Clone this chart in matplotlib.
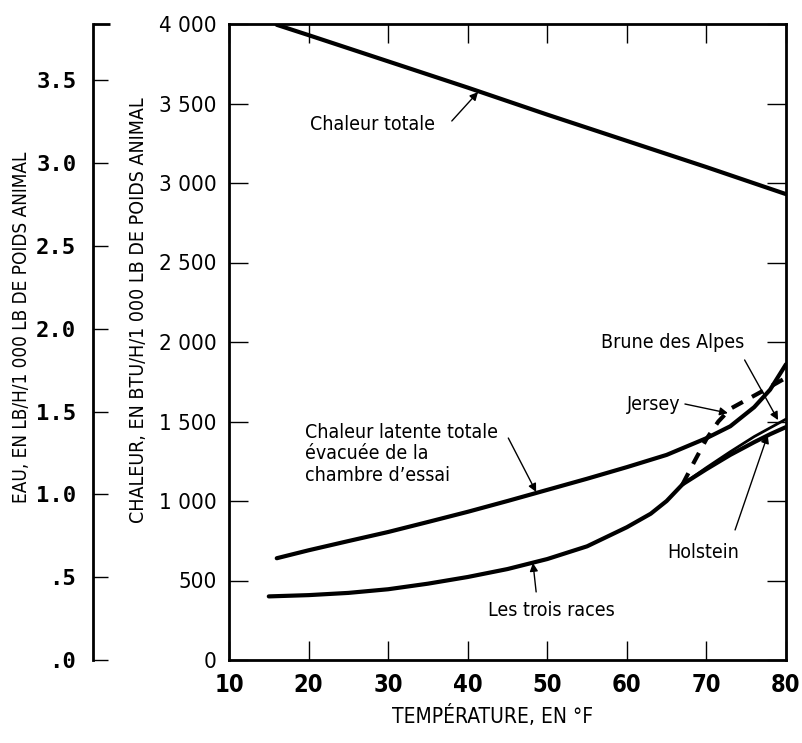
import matplotlib
matplotlib.use("Agg")
import matplotlib.pyplot as plt
from matplotlib.ticker import FixedLocator, FuncFormatter

# ===== DATA =====

TOTAL_TEMP = [16, 20, 30, 40, 50, 60, 70, 80]
TOTAL_HEAT = [3995, 3930, 3765, 3600, 3430, 3265, 3100, 2930]

LATENT_TEMP = [16, 20, 25, 30, 35, 40, 45, 50, 55, 60, 65, 70, 73, 76, 78, 80]
LATENT_HEAT = [640, 690, 748, 805, 868, 932, 1000, 1070, 1140, 1213, 1290, 1395, 1470, 1590, 1700, 1860]

BREEDS_TEMP = [15, 20, 25, 30, 35, 40, 45, 50, 55, 60, 63, 65, 67]
BREEDS_HEAT = [400, 408, 422, 445, 480, 522, 572, 635, 715, 835, 920, 1000, 1105]

JERSEY_TEMP = [67, 68.5, 70, 71.5, 73, 75, 77, 80]
JERSEY_HEAT = [1105, 1250, 1390, 1500, 1580, 1635, 1690, 1775]

HOLSTEIN_TEMP = [67, 70, 73, 76, 78, 80]
HOLSTEIN_HEAT = [1105, 1200, 1290, 1370, 1420, 1465]

BRUNE_TEMP = [67, 70, 73, 76, 78, 80]
BRUNE_HEAT = [1105, 1210, 1310, 1405, 1460, 1515]

X_TICKS = [10, 20, 30, 40, 50, 60, 70, 80]
Y_TICKS = [0, 500, 1000, 1500, 2000, 2500, 3000, 3500, 4000]
WATER_TICKS = [0, 0.5, 1.0, 1.5, 2.0, 2.5, 3.0, 3.5]
WATER_LABELS = [".0", ".5", "1.0", "1.5", "2.0", "2.5", "3.0", "3.5"]
WATER_MAX = 3.84   # 4 000 BTU expressed as lb of water

# ===== STYLE =====
FONT = ["DejaVu Sans"]
MONO = ["DejaVu Sans Mono"]
plt.rcParams["font.family"] = FONT
plt.rcParams["font.stretch"] = "condensed"

W, H = 802, 743
LEFT, RIGHT, TOP, BOTTOM = 229, 786, 24, 660   # main axes, in pixels


def thousands(v, pos):
    return f"{int(v):,}".replace(",", " ")


def annotate(ax, text, xy, xytext, **kw):
    ax.annotate(text, xy=xy, xytext=xytext, fontsize=14,
                arrowprops=dict(arrowstyle="-|>", color="black", lw=1.0,
                                mutation_scale=12, shrinkA=0, shrinkB=0),
                **kw)


def main() -> None:
    fig = plt.figure(figsize=(W / 100, H / 100), dpi=100)
    ax = fig.add_axes([LEFT / W, 1 - BOTTOM / H, (RIGHT - LEFT) / W, (BOTTOM - TOP) / H])

    lw = 3.0
    ax.plot(TOTAL_TEMP, TOTAL_HEAT, color="black", lw=lw, solid_capstyle="round")
    ax.plot(LATENT_TEMP, LATENT_HEAT, color="black", lw=lw, solid_capstyle="round")
    ax.plot(BREEDS_TEMP, BREEDS_HEAT, color="black", lw=lw, solid_capstyle="round")
    ax.plot(HOLSTEIN_TEMP, HOLSTEIN_HEAT, color="black", lw=lw, solid_capstyle="round")
    ax.plot(BRUNE_TEMP, BRUNE_HEAT, color="black", lw=2.0, solid_capstyle="round")
    ax.plot(JERSEY_TEMP, JERSEY_HEAT, color="black", lw=lw, ls=(0, (3, 2.5)))

    ax.set_xlim(10, 80)
    ax.set_ylim(0, 4000)

    for side in ax.spines.values():
        side.set_linewidth(2.0)

    ax.xaxis.set_major_locator(FixedLocator(X_TICKS))
    ax.yaxis.set_major_locator(FixedLocator(Y_TICKS))
    ax.yaxis.set_major_formatter(FuncFormatter(thousands))
    ax.tick_params(direction="in", length=14, width=1.0, top=True, right=True)
    ax.tick_params(axis="x", pad=9, labelsize=17)
    ax.tick_params(axis="y", pad=9, labelsize=16)
    for lab in ax.get_xticklabels():
        lab.set_fontweight("bold")

    # secondary water scale on the far left
    ax2 = fig.add_axes([93 / W, 1 - BOTTOM / H, 0.0001, (BOTTOM - TOP) / H])
    for name in ("top", "right", "bottom"):
        ax2.spines[name].set_visible(False)
    ax2.spines["left"].set_linewidth(2.0)
    ax2.set_xticks([])
    ax2.set_ylim(0, WATER_MAX)
    ax2.yaxis.set_major_locator(FixedLocator(WATER_TICKS))
    ax2.set_yticklabels(WATER_LABELS, family=MONO, fontsize=16, fontweight="bold")
    ax2.yaxis.set_minor_locator(FixedLocator([0, WATER_MAX]))
    ax2.tick_params(axis="y", which="major", direction="in", length=11, width=1.0, pad=12)
    ax2.tick_params(axis="y", which="minor", direction="in", length=12, width=2.0)

    # axis titles
    fig.text(138 / W, 1 - 310 / H, "CHALEUR, EN BTU/H/1 000 LB DE POIDS ANIMAL",
             rotation=90, ha="center", va="center", fontsize=14)
    fig.text(22 / W, 1 - 327 / H, "EAU, EN LB/H/1 000 LB DE POIDS ANIMAL",
             rotation=90, ha="center", va="center", fontsize=13.6)
    fig.text(493 / W, 1 - 716 / H, "TEMPÉRATURE, EN °F",
             ha="center", va="center", fontsize=15)

    # curve labels with leader arrows
    ax.text(28.0, 3365, "Chaleur totale", ha="center", va="center", fontsize=14)
    annotate(ax, "", xy=(41.3, 3572), xytext=(38.0, 3390))

    ax.text(19.6, 1490, "Chaleur latente totale\névacuée de la\nchambre d\u2019essai",
            ha="left", va="top", fontsize=14, linespacing=1.15)
    annotate(ax, "", xy=(48.6, 1057), xytext=(45.1, 1396))

    ax.text(50.5, 314, "Les trois races", ha="center", va="center", fontsize=14)
    annotate(ax, "", xy=(48.2, 610), xytext=(48.6, 428))

    ax.text(69.6, 679, "Holstein", ha="center", va="center", fontsize=14)
    annotate(ax, "", xy=(77.7, 1415), xytext=(73.6, 818))

    ax.text(63.4, 1604, "Jersey", ha="center", va="center", fontsize=14)
    annotate(ax, "", xy=(72.7, 1553), xytext=(67.3, 1610))

    ax.text(65.8, 1994, "Brune des Alpes", ha="center", va="center", fontsize=14)
    annotate(ax, "", xy=(79.0, 1509), xytext=(74.8, 1887))

    fig.savefig("out.png", dpi=100)
    plt.close(fig)


if __name__ == "__main__":
    main()
